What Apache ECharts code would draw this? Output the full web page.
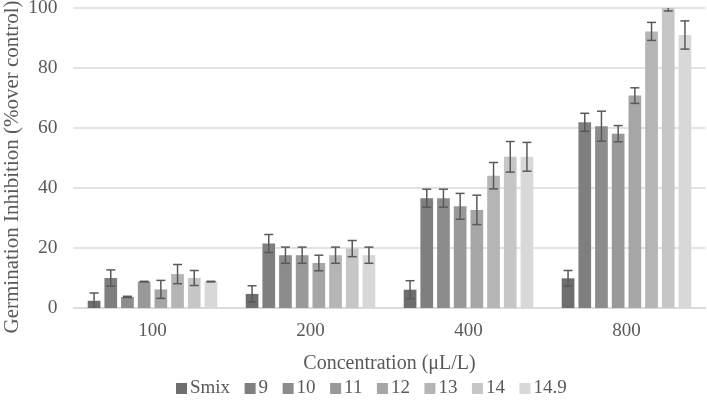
<!DOCTYPE html>
<html>
<head>
<meta charset="utf-8">
<script src="https://cdn.jsdelivr.net/npm/echarts@6/dist/echarts.min.js"></script>
<style>html,body{margin:0;padding:0;background:#fff}#c{width:707px;height:408px}</style>
</head>
<body>
<div id="c"></div>
<script>
var categories = ['100', '200', '400', '800'];
var seriesNames = ['Smix', '9', '10', '11', '12', '13', '14', '14.9'];
var smix = [2.4, 4.7, 6.1, 9.9];
var s9 = [10.0, 21.5, 36.6, 61.9];
var s10 = [3.7, 17.6, 36.6, 60.6];
var s11 = [8.8, 17.6, 33.9, 58.1];
var s12 = [6.2, 15.0, 32.7, 70.8];
var s13 = [11.3, 17.6, 44.1, 92.2];
var s14 = [10.0, 19.8, 50.4, 100];
var s149 = [8.8, 17.6, 50.4, 91.0];
var smixErr = [2.6, 2.7, 3.0, 2.6];
var s9Err = [2.7, 3.0, 3.0, 3.0];
var s10Err = [0.2, 2.7, 3.0, 5.0];
var s11Err = [0.1, 2.7, 4.3, 2.7];
var s12Err = [3.0, 2.6, 4.9, 2.6];
var s13Err = [3.2, 2.7, 4.4, 3.0];
var s14Err = [2.5, 2.7, 5.1, 1.0];
var s149Err = [0.1, 2.7, 4.8, 4.7];
var yTicks = [0, 20, 40, 60, 80, 100];
var xTitle = 'Concentration (μL/L)';
var yTitle = 'Germination Inhibition (%over control)';

var values = [smix, s9, s10, s11, s12, s13, s14, s149];
var errors = [smixErr, s9Err, s10Err, s11Err, s12Err, s13Err, s14Err, s149Err];
var colors = ['#6e6e6e', '#7f7f7f', '#8c8c8c', '#999999', '#a6a6a6', '#b5b5b5', '#c6c6c6', '#d8d8d8'];
var BAR_GAP = 0.315, CAT_GAP = 0.18;
var FONT = '"Liberation Serif", "Times New Roman", serif';
var nS = seriesNames.length;

var series = [];
seriesNames.forEach(function (name, i) {
  series.push({
    name: name, type: 'bar', data: values[i],
    barGap: (BAR_GAP * 100) + '%', barCategoryGap: (CAT_GAP * 100) + '%',
    itemStyle: { color: colors[i] }
  });
});
var errData = [];
for (var i = 0; i < nS; i++) {
  for (var j = 0; j < categories.length; j++) {
    errData.push([j, values[i][j], errors[i][j], i]);
  }
}
series.push({
  type: 'custom', clip: true, silent: true,
  data: errData,
  encode: { x: 0, y: 1 },
  z: 10,
  renderItem: function (params, api) {
    var cat = api.value(0), v = api.value(1), e = api.value(2), si = api.value(3);
    var band = api.size([1, 0])[0];
    var remain = band * (1 - CAT_GAP);
    var bw = remain / (nS + (nS - 1) * BAR_GAP);
    var total = nS * bw + (nS - 1) * bw * BAR_GAP;
    var center = api.coord([cat, 0])[0];
    var x = center - total / 2 + si * bw * (1 + BAR_GAP) + bw / 2;
    var yHi = api.coord([cat, v + e])[1];
    var yLo = api.coord([cat, v - e])[1];
    var cap = 4.5;
    var st = { stroke: '#595959', lineWidth: 1.5 };
    return {
      type: 'group',
      children: [
        { type: 'line', shape: { x1: x, y1: yHi, x2: x, y2: yLo }, style: st },
        { type: 'line', shape: { x1: x - cap, y1: yHi, x2: x + cap, y2: yHi }, style: st },
        { type: 'line', shape: { x1: x - cap, y1: yLo, x2: x + cap, y2: yLo }, style: st }
      ]
    };
  }
});

var chart = echarts.init(document.getElementById('c'), null, { renderer: 'canvas' });
chart.setOption({
  animation: false,
  textStyle: { fontFamily: FONT },
  grid: { left: 73.5, right: 1.5, top: 8, bottom: 100, containLabel: false, outerBoundsMode: 'none' },
  legend: {
    data: seriesNames, bottom: 5, left: 171,
    icon: 'rect', itemWidth: 11, itemHeight: 11, itemGap: 14.5,
    textStyle: { fontFamily: FONT, fontSize: 19, color: '#595959', padding: [0, 0, 0, -2] }
  },
  graphic: [{
    type: 'text', x: 12, y: 167, rotation: Math.PI / 2, silent: true,
    style: { text: yTitle, fontFamily: FONT, fontSize: 21, fill: '#595959',
      align: 'center', verticalAlign: 'middle' }
  }],
  xAxis: {
    type: 'category', data: categories,
    name: xTitle, nameLocation: 'middle', nameGap: 46,
    nameTextStyle: { fontFamily: FONT, fontSize: 20, color: '#595959' },
    axisLine: { lineStyle: { color: '#d9d9d9', width: 1.5 } },
    axisTick: { show: false },
    axisLabel: { fontFamily: FONT, fontSize: 19, color: '#595959', margin: 14 }
  },
  yAxis: {
    type: 'value', min: 0, max: 100, interval: 20,
    axisLine: { show: false }, axisTick: { show: false },
    splitLine: { lineStyle: { color: '#d9d9d9', width: 1.5 } },
    axisLabel: { fontFamily: FONT, fontSize: 19.5, color: '#595959', margin: 16,
      formatter: function (v) { return yTicks.indexOf(v) >= 0 ? String(v) : ''; } }
  },
  series: series
});
</script>
</body>
</html>
